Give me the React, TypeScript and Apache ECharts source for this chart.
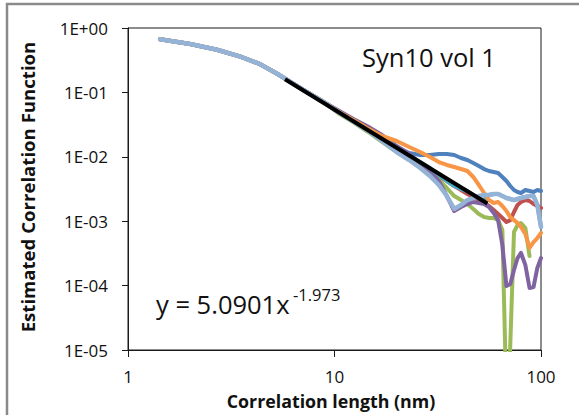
import React, { useEffect, useRef } from 'react';
import * as echarts from 'echarts';

// Correlation length (nm) sample positions shared by the measured curves
const xValues = [
  1.43, 2.0, 2.7, 3.5, 4.3, 5.2, 6.2, 7.4, 8.8,
  10.4, 12.3, 14.5,
  17, 20, 23, 26, 29, 32, 35, 38, 41, 44, 47, 50, 53, 56, 59, 62, 65, 68, 71, 74, 77, 80, 84, 88, 92, 96, 100,
];
// The green curve has its own positions around its deep dip
const greenX = [
  1.43, 2.0, 2.7, 3.5, 4.3, 5.2, 6.2, 7.4, 8.8,
  10.4, 12.3, 14.5,
  17, 20, 23, 26, 29, 32, 35, 38, 41, 44, 47, 50, 53, 56, 59, 62, 65, 67.7, 70, 74, 77, 80, 84, 88,
];

// Part where all seven curves coincide (x = 1.43 … 8.8)
const headValues = [0.67, 0.565, 0.46, 0.36, 0.28, 0.2, 0.142, 0.1, 0.072];

// Individual curves from x = 10.4 on
const blueValues = [
  0.051, 0.037, 0.027,
  0.0203, 0.0142, 0.01146, 0.01067, 0.01067, 0.01105, 0.01105, 0.01067, 0.00958, 0.00891, 0.00801, 0.0072, 0.00646,
  0.00602, 0.00581, 0.0056, 0.00486, 0.00421, 0.00352, 0.00305, 0.00284, 0.00274, 0.00305, 0.00294, 0.00284, 0.00305, 0.00294,
];
const redValues = [
  0.05, 0.036, 0.026,
  0.01759, 0.01276, 0.00958, 0.00801, 0.00624, 0.00503, 0.00421, 0.00352, 0.00305, 0.00265, 0.00238, 0.00213, 0.00192,
  0.00172, 0.00149, 0.00129, 0.00112, 0.000972, 0.00104, 0.00139, 0.00179, 0.00199, 0.00213, 0.00206, 0.00185, 0.00172, 0.0016,
];
const greenValues = [
  0.048, 0.0345, 0.0245,
  0.01698, 0.01187, 0.00891, 0.00694, 0.0056, 0.00436, 0.00328, 0.00246, 0.00213, 0.00185, 0.00155, 0.00129, 0.00116,
  0.00112, 0.00112, 0.00104, 0.00073, 3e-6, 3e-6, 0.00068, 0.000873, 0.000938, 0.000784, 0.000288,
];
const purpleValues = [
  0.053, 0.039, 0.0295,
  0.0218, 0.01471, 0.01105, 0.00801, 0.00602, 0.00421, 0.00246, 0.00144, 0.00166, 0.00185, 0.00199, 0.00192, 0.00185,
  0.00166, 0.00134, 0.00104, 0.000427, 0.0000986, 0.000106, 0.000175, 0.000268, 0.000321, 0.000209, 0.0000918, 0.000095,
  0.000188, 0.000268,
];
const cyanValues = [
  0.05, 0.036, 0.026,
  0.0189, 0.0137, 0.01029, 0.0083, 0.0067, 0.00522, 0.00421, 0.00352, 0.00316, 0.00294, 0.00255, 0.00229, 0.00213,
  0.00255, 0.00265, 0.00265, 0.00246, 0.00229, 0.00221, 0.00213, 0.00221, 0.00229, 0.00238, 0.00246, 0.00246, 0.00179, 0.000813,
];
const orangeValues = [
  0.051, 0.0375, 0.0275,
  0.02104, 0.01759, 0.0142, 0.01187, 0.00993, 0.0083, 0.00746, 0.00694, 0.00646, 0.00602, 0.00486, 0.00365, 0.00274,
  0.00213, 0.00192, 0.00199, 0.00172, 0.00144, 0.00116, 0.00104, 0.000938, 0.000813, 0.000633, 0.000384, 0.000475, 0.000548,
  0.000656,
];
const lightBlueValues = [
  0.05, 0.0355, 0.0255,
  0.01759, 0.01187, 0.00891, 0.0067, 0.00503, 0.00365, 0.00246, 0.00155, 0.00179, 0.00213, 0.00229, 0.00246, 0.00255,
  0.00255, 0.00265, 0.00265, 0.00246, 0.00229, 0.00221, 0.00213, 0.00221, 0.00229, 0.00238, 0.00246, 0.00246, 0.00179, 0.000813,
];

// Power-law trendline end points
const fitX = [5.76, 55];
const fitY = [0.16, 0.00188];

const seriesNames = ['Blue', 'Red', 'Green', 'Purple', 'Aqua', 'Orange', 'Light blue'];
const seriesColors = ['#4F81BD', '#C0504D', '#9BBB59', '#8064A2', '#4BACC6', '#F79646', '#95B3D7'];
const seriesValues = [blueValues, redValues, greenValues, purpleValues, cyanValues, orangeValues, lightBlueValues];
const seriesX = [xValues, xValues, greenX, xValues, xValues, xValues, xValues];

const yTickLabels = ['1E-05', '1E-04', '1E-03', '1E-02', '1E-01', '1E+00'];
const xTickLabels = ['1', '10', '100'];

const xTitle = 'Correlation length (nm)';
const yTitle = 'Estimated Correlation Function';
const annotation = 'Syn10 vol 1';
const equationMain = 'y = 5.0901x';
const equationExp = '-1.973';

const FONT = "'Open Sans', 'Noto Sans', sans-serif";

export default function App() {
  const ref = useRef<HTMLDivElement>(null);

  useEffect(() => {
    document.body.style.margin = '0';
    const chart = echarts.init(ref.current as HTMLDivElement, null, { renderer: 'svg' });

    const lines: any[] = seriesValues.map((vals, k) => {
      const ys = headValues.concat(vals);
      const xs = seriesX[k];
      return {
        name: seriesNames[k],
        type: 'line',
        data: ys.map((y, i) => [xs[i], y]),
        showSymbol: false,
        symbol: 'none',
        silent: true,
        clip: true,
        lineStyle: { color: seriesColors[k], width: k === 6 ? 4.5 : 4, cap: 'round', join: 'round' },
        itemStyle: { color: seriesColors[k] },
        z: 2 + k,
      };
    });
    lines.push({
      name: 'Power fit',
      type: 'line',
      data: fitX.map((x, i) => [x, fitY[i]]),
      showSymbol: false,
      symbol: 'none',
      silent: true,
      lineStyle: { color: '#000000', width: 4 },
      z: 20,
    });

    chart.setOption({
      animation: false,
      backgroundColor: '#ffffff',
      grid: {
        left: 128,
        top: 28,
        width: 413,
        height: 322,
        show: true,
        borderColor: '#1a1a1a',
        borderWidth: 1,
        backgroundColor: 'transparent',
      },
      xAxis: {
        type: 'log',
        logBase: 10,
        min: 1,
        max: 100,
        axisLine: { show: true, lineStyle: { color: '#1a1a1a', width: 1 } },
        axisTick: { show: true, inside: false, length: 7, lineStyle: { color: '#1a1a1a' } },
        minorTick: { show: false },
        splitLine: { show: false },
        axisLabel: {
          margin: 18,
          fontFamily: FONT,
          fontSize: 17,
          color: '#111',
          formatter: (v: number) => xTickLabels[Math.round(Math.log10(v))] ?? '',
        },
      },
      yAxis: {
        type: 'log',
        logBase: 10,
        min: 1e-5,
        max: 1,
        axisLine: { show: true, lineStyle: { color: '#1a1a1a', width: 1 } },
        axisTick: { show: true, inside: false, length: 6, lineStyle: { color: '#1a1a1a' } },
        minorTick: { show: false },
        splitLine: { show: false },
        axisLabel: {
          margin: 20,
          fontFamily: FONT,
          fontSize: 17,
          color: '#111',
          formatter: (v: number) => yTickLabels[Math.round(Math.log10(v)) + 5] ?? '',
        },
      },
      graphic: [
        {
          type: 'rect',
          silent: true,
          shape: { x: 7, y: 4, width: 640, height: 500 },
          style: { fill: 'none', stroke: '#8a8a8a', lineWidth: 2.5 },
        },
        {
          type: 'text',
          silent: true,
          x: 362,
          y: 57,
          style: { text: annotation, fontFamily: FONT, fontSize: 25.5, fill: '#111', align: 'left', verticalAlign: 'middle' },
        },
        {
          type: 'text',
          silent: true,
          x: 156,
          y: 304,
          style: { text: equationMain, fontFamily: FONT, fontSize: 25.5, fill: '#111', align: 'left', verticalAlign: 'middle' },
        },
        {
          type: 'text',
          silent: true,
          x: 293,
          y: 294,
          style: { text: equationExp, fontFamily: FONT, fontSize: 16.5, fill: '#111', align: 'left', verticalAlign: 'middle' },
        },
        {
          type: 'text',
          silent: true,
          x: 331,
          y: 401,
          style: {
            text: xTitle,
            fontFamily: FONT,
            fontSize: 17.8,
            fontWeight: 'bold',
            fill: '#111',
            align: 'center',
            verticalAlign: 'middle',
          },
        },
        {
          type: 'text',
          silent: true,
          x: 27,
          y: 187,
          rotation: Math.PI / 2,
          style: {
            text: yTitle,
            fontFamily: FONT,
            fontSize: 18.6,
            fontWeight: 'bold',
            fill: '#111',
            align: 'center',
            verticalAlign: 'middle',
          },
        },
      ],
      series: lines,
    });

    return () => chart.dispose();
  }, []);

  return <div ref={ref} style={{ position: 'absolute', left: 0, top: 0, width: 579, height: 415 }} />;
}
